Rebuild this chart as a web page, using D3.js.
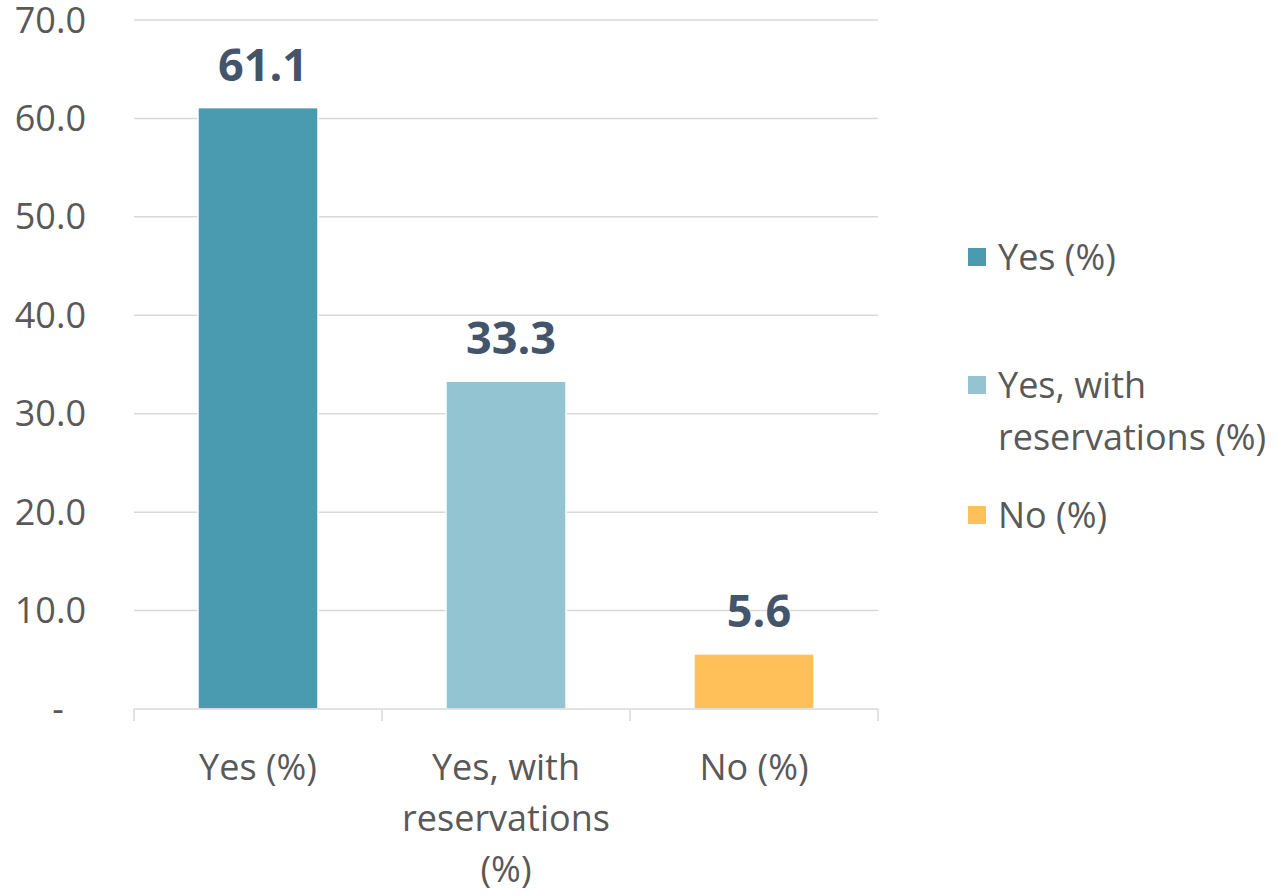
<!DOCTYPE html>
<html>
<head>
<meta charset="utf-8">
<script src="https://cdn.jsdelivr.net/npm/d3@7"></script>
<style>
  html, body { margin: 0; padding: 0; background: #ffffff; }
  svg { display: block; font-family: "Open Sans", Lato, sans-serif; }
</style>
</head>
<body>
<svg id="chart" width="1279" height="894"></svg>
<script>
// Survey answers and their shares
const categories = ["Yes (%)", "Yes, with reservations (%)", "No (%)"];
const categoryLines = [["Yes (%)"], ["Yes, with", "reservations", "(%)"], ["No (%)"]];
const values = [61.1, 33.3, 5.6];
const colors = ["#4a9bb0", "#92c5d1", "#ffc05a"];
const legendLines = [["Yes (%)"], ["Yes, with", "reservations (%)"], ["No (%)"]];
const yTicks = [0, 10, 20, 30, 40, 50, 60, 70];

const svg = d3.select("#chart");
const plotLeft = 134, plotRight = 878, plotTop = 20, plotBottom = 709;
const textSize = 36;
const textColor = "#595959";

const x = d3.scaleBand().domain(categories).range([plotLeft, plotRight]).padding(0);
const y = d3.scaleLinear().domain([0, 70]).range([plotBottom, plotTop]);
const barW = x.bandwidth() * 0.484;

// horizontal gridlines
svg.append("g").selectAll("line")
  .data(yTicks.filter(d => d > 0))
  .join("line")
  .attr("x1", plotLeft).attr("x2", plotRight)
  .attr("y1", d => y(d)).attr("y2", d => y(d))
  .attr("stroke", "#d9d9d9").attr("stroke-width", 1.5);

// y tick labels (zero shown as a dash)
svg.append("g").selectAll("text")
  .data(yTicks)
  .join("text")
  .attr("x", d => d === 0 ? 58 : 86)
  .attr("y", d => y(d))
  .attr("dy", "0.35em")
  .attr("text-anchor", d => d === 0 ? "middle" : "end")
  .attr("font-size", textSize)
  .attr("fill", textColor)
  .text(d => d === 0 ? "-" : d.toFixed(1));

// bars
svg.append("g").selectAll("rect")
  .data(categories)
  .join("rect")
  .attr("x", d => x(d) + (x.bandwidth() - barW) / 2)
  .attr("width", barW)
  .attr("y", (d, i) => y(values[i]))
  .attr("height", (d, i) => y(0) - y(values[i]))
  .attr("fill", (d, i) => colors[i])
  .attr("stroke", "#ffffff").attr("stroke-width", 1.5);

// value labels
svg.append("g").selectAll("text")
  .data(categories)
  .join("text")
  .attr("x", d => x(d) + x.bandwidth() / 2 + 5)
  .attr("y", (d, i) => y(values[i]) - 27)
  .attr("text-anchor", "middle")
  .attr("font-size", 45)
  .attr("font-weight", 700)
  .attr("fill", "#44546a")
  .text((d, i) => values[i].toFixed(1));

// x axis baseline and category separators
const xAxis = svg.append("g");
xAxis.append("line")
  .attr("x1", plotLeft).attr("x2", plotRight)
  .attr("y1", plotBottom).attr("y2", plotBottom)
  .attr("stroke", "#d9d9d9").attr("stroke-width", 1.5);
xAxis.selectAll("line.sep")
  .data(categories.map(d => x(d)).concat([plotRight]))
  .join("line")
  .attr("class", "sep")
  .attr("x1", d => d).attr("x2", d => d)
  .attr("y1", plotBottom).attr("y2", plotBottom + 12)
  .attr("stroke", "#d9d9d9").attr("stroke-width", 1.5);

// category labels
const catG = svg.append("g").selectAll("text")
  .data(categories)
  .join("text")
  .attr("text-anchor", "middle")
  .attr("font-size", textSize)
  .attr("fill", textColor);
catG.each(function(d, i) {
  const t = d3.select(this);
  categoryLines[i].forEach((line, k) => {
    t.append("tspan")
      .attr("x", x(d) + x.bandwidth() / 2)
      .attr("y", 780 + k * 51)
      .text(line);
  });
});

// legend
const legendY = [257, 385, 515];
const leg = svg.append("g").selectAll("g")
  .data(categories)
  .join("g");
leg.append("rect")
  .attr("x", 968).attr("y", (d, i) => legendY[i] - 9)
  .attr("width", 18).attr("height", 18)
  .attr("fill", (d, i) => colors[i]);
leg.append("text")
  .attr("font-size", textSize)
  .attr("fill", textColor)
  .each(function(d, i) {
    const t = d3.select(this);
    legendLines[i].forEach((line, k) => {
      t.append("tspan")
        .attr("x", 998)
        .attr("y", legendY[i] + k * 52)
        .attr("dy", "0.35em")
        .text(line);
    });
  });
</script>
</body>
</html>
